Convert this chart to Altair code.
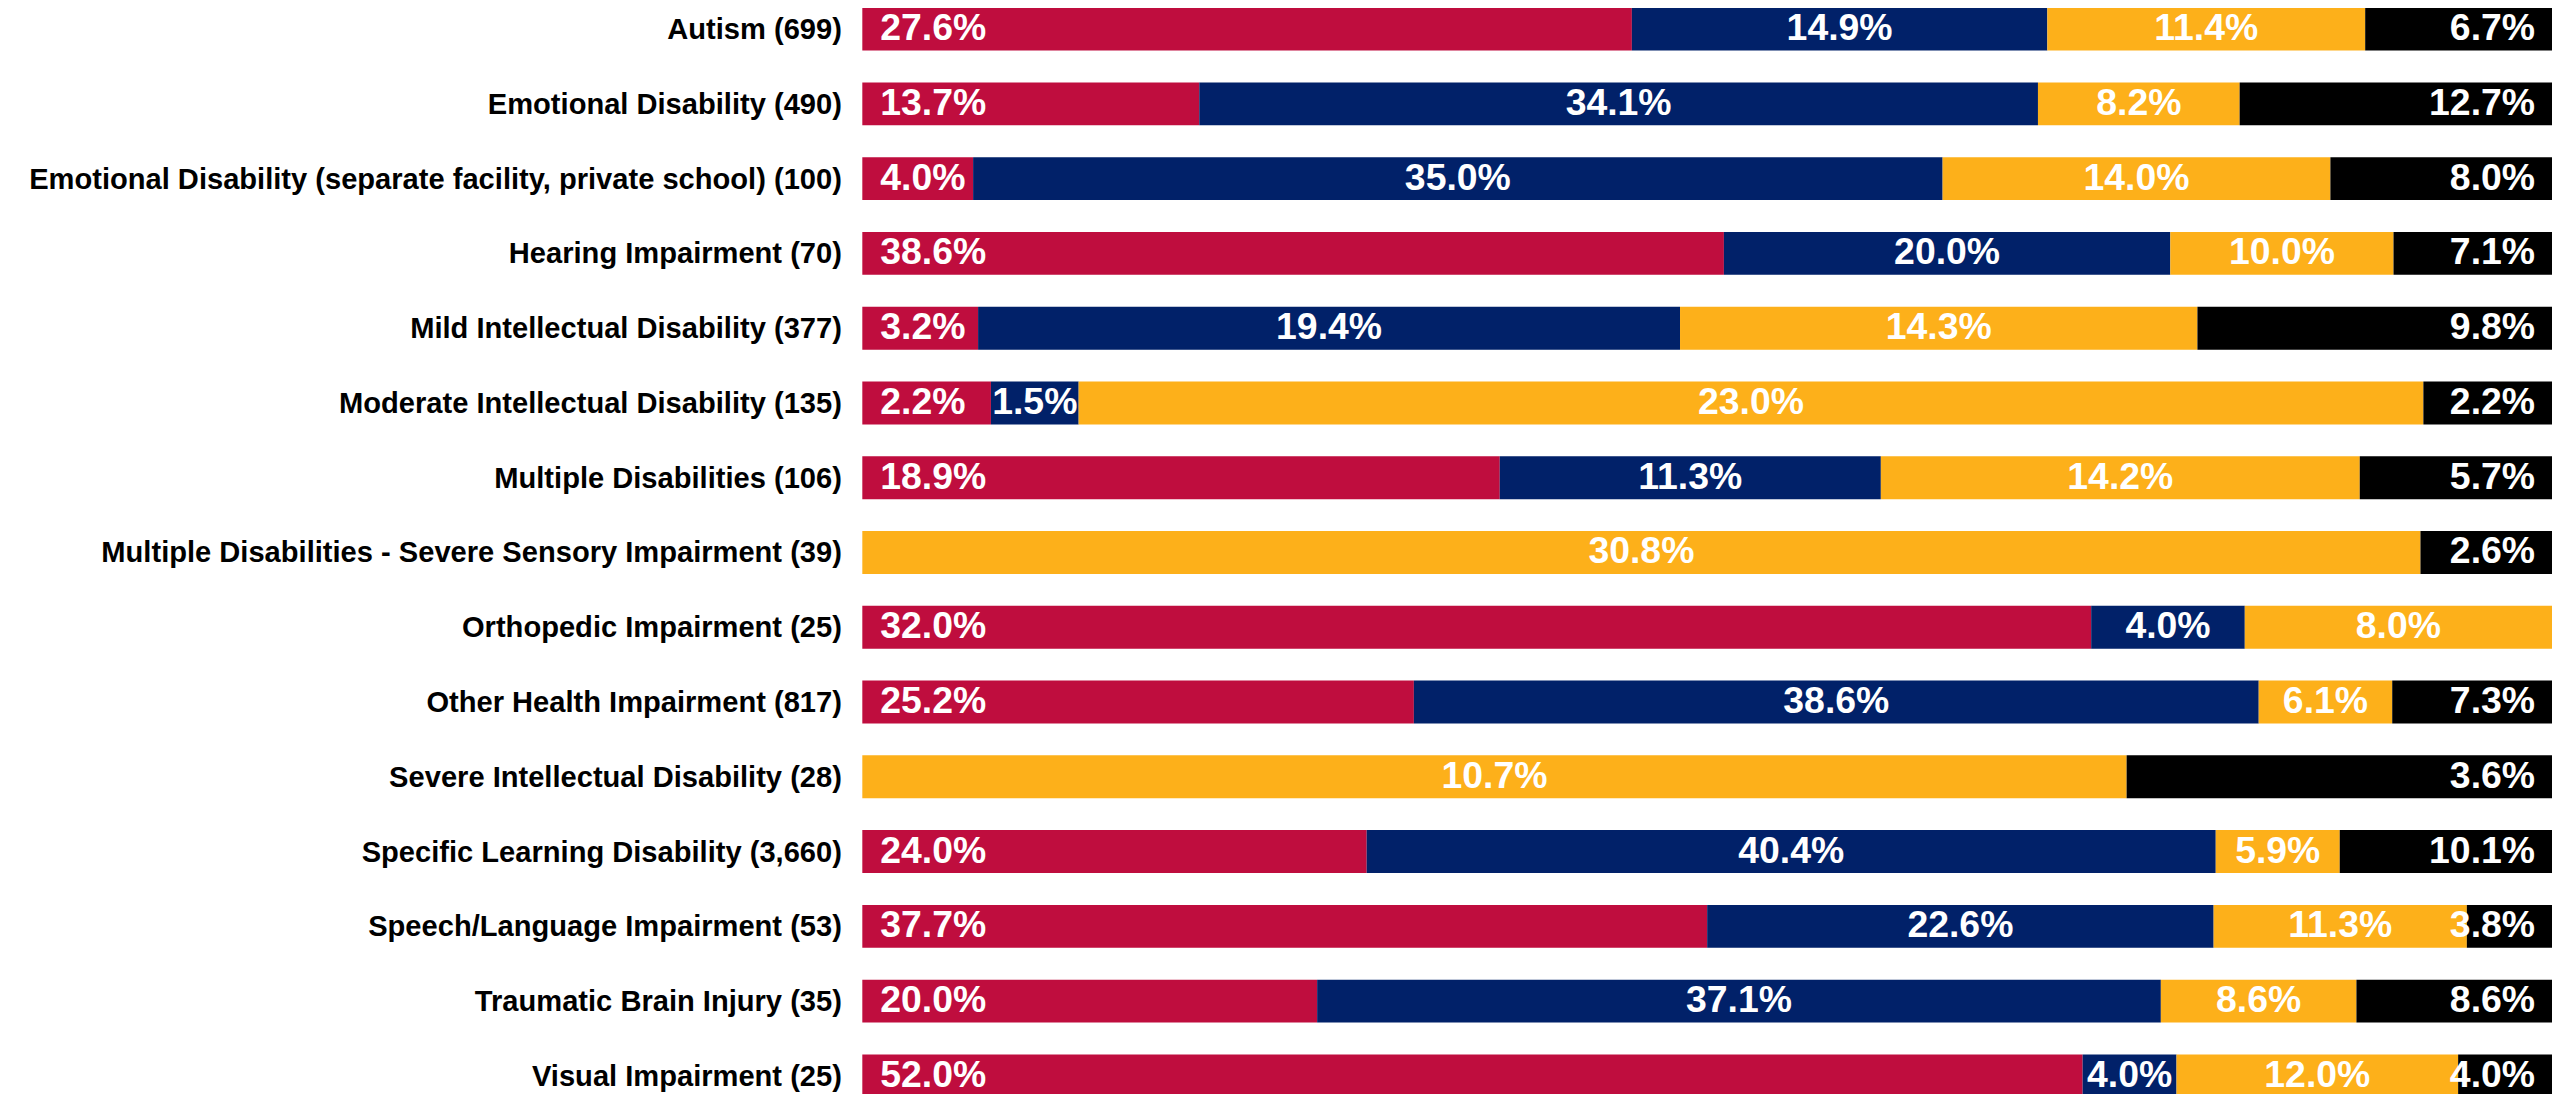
import altair as alt
import pandas as pd

categories = [
    "Autism (699)",
    "Emotional Disability (490)",
    "Emotional Disability (separate facility, private school) (100)",
    "Hearing Impairment (70)",
    "Mild Intellectual Disability (377)",
    "Moderate Intellectual Disability (135)",
    "Multiple Disabilities (106)",
    "Multiple Disabilities - Severe Sensory Impairment (39)",
    "Orthopedic Impairment (25)",
    "Other Health Impairment (817)",
    "Severe Intellectual Disability (28)",
    "Specific Learning Disability (3,660)",
    "Speech/Language Impairment (53)",
    "Traumatic Brain Injury (35)",
    "Visual Impairment (25)",
]
series_names = ["Series 1", "Series 2", "Series 3", "Series 4"]
series_colors = ["#BF0D3E", "#012169", "#FDB01A", "#000000"]

s1 = [27.6, 13.7, 4.0, 38.6, 3.2, 2.2, 18.9, 0.0, 32.0, 25.2, 0.0, 24.0, 37.7, 20.0, 52.0]
s2 = [14.9, 34.1, 35.0, 20.0, 19.4, 1.5, 11.3, 0.0, 4.0, 38.6, 0.0, 40.4, 22.6, 37.1, 4.0]
s3 = [11.4, 8.2, 14.0, 10.0, 14.3, 23.0, 14.2, 30.8, 8.0, 6.1, 10.7, 5.9, 11.3, 8.6, 12.0]
s4 = [6.7, 12.7, 8.0, 7.1, 9.8, 2.2, 5.7, 2.6, 0.0, 7.3, 3.6, 10.1, 3.8, 8.6, 4.0]

rows = []
for si, (name, vals) in enumerate(zip(series_names, [s1, s2, s3, s4])):
    for c, v in zip(categories, vals):
        rows.append({"cat": c, "series": name, "order": si, "value": v})
df = pd.DataFrame(rows)

FONT = "Liberation Sans"

base = alt.Chart(df).transform_stack(
    stack="value",
    groupby=["cat"],
    as_=["v0", "v1"],
    offset="normalize",
    sort=[alt.SortField("order", order="ascending")],
).transform_calculate(
    mid="(datum.v0 + datum.v1) / 2",
    label="format(datum.value, '.1f') + '%'",
)

yenc = alt.Y(
    "cat:N",
    sort=categories,
    title=None,
    scale=alt.Scale(range=[-2, 1091], paddingInner=0.4267, paddingOuter=0),
    axis=alt.Axis(
        domain=False,
        ticks=False,
        labelFontSize=29.2,
        labelFont=FONT,
        labelFontWeight="bold",
        labelColor="#000000",
        labelPadding=21,
        labelLimit=2000,
        labelOffset=1,
        grid=False,
    ),
)
xscale = alt.Scale(domain=[0, 1], nice=False, zero=True)

bars = base.mark_bar().encode(
    y=yenc,
    x=alt.X("v0:Q", scale=xscale, axis=None),
    x2="v1:Q",
    color=alt.Color(
        "series:N",
        scale=alt.Scale(domain=series_names, range=series_colors),
        legend=None,
    ),
)

txt_props = dict(color="white", font=FONT, fontWeight="bold", fontSize=37.5, baseline="middle")

t_first = base.transform_filter(
    "datum.series == 'Series 1' && datum.value > 0"
).mark_text(align="left", dx=18, **txt_props).encode(
    y=alt.Y("cat:N", sort=categories),
    x=alt.X("v0:Q", scale=xscale),
    text="label:N",
)
t_mid = base.transform_filter(
    "(datum.series == 'Series 2' || datum.series == 'Series 3') && datum.value > 0"
).mark_text(align="center", **txt_props).encode(
    y=alt.Y("cat:N", sort=categories),
    x=alt.X("mid:Q", scale=xscale),
    text="label:N",
)
t_last = base.transform_filter(
    "datum.series == 'Series 4' && datum.value > 0"
).mark_text(align="right", dx=-17, **txt_props).encode(
    y=alt.Y("cat:N", sort=categories),
    x=alt.X("v1:Q", scale=xscale),
    text="label:N",
)

chart = alt.layer(bars, t_first, t_mid, t_last).properties(
    width=1695,
    height=1086,
    autosize=alt.AutoSizeParams(type="none"),
    padding={"left": 857, "top": 0, "right": 0, "bottom": 0},
    background="white",
).configure_view(strokeWidth=0)

chart.save("out.html", embed_options={"renderer": "svg", "actions": False})
